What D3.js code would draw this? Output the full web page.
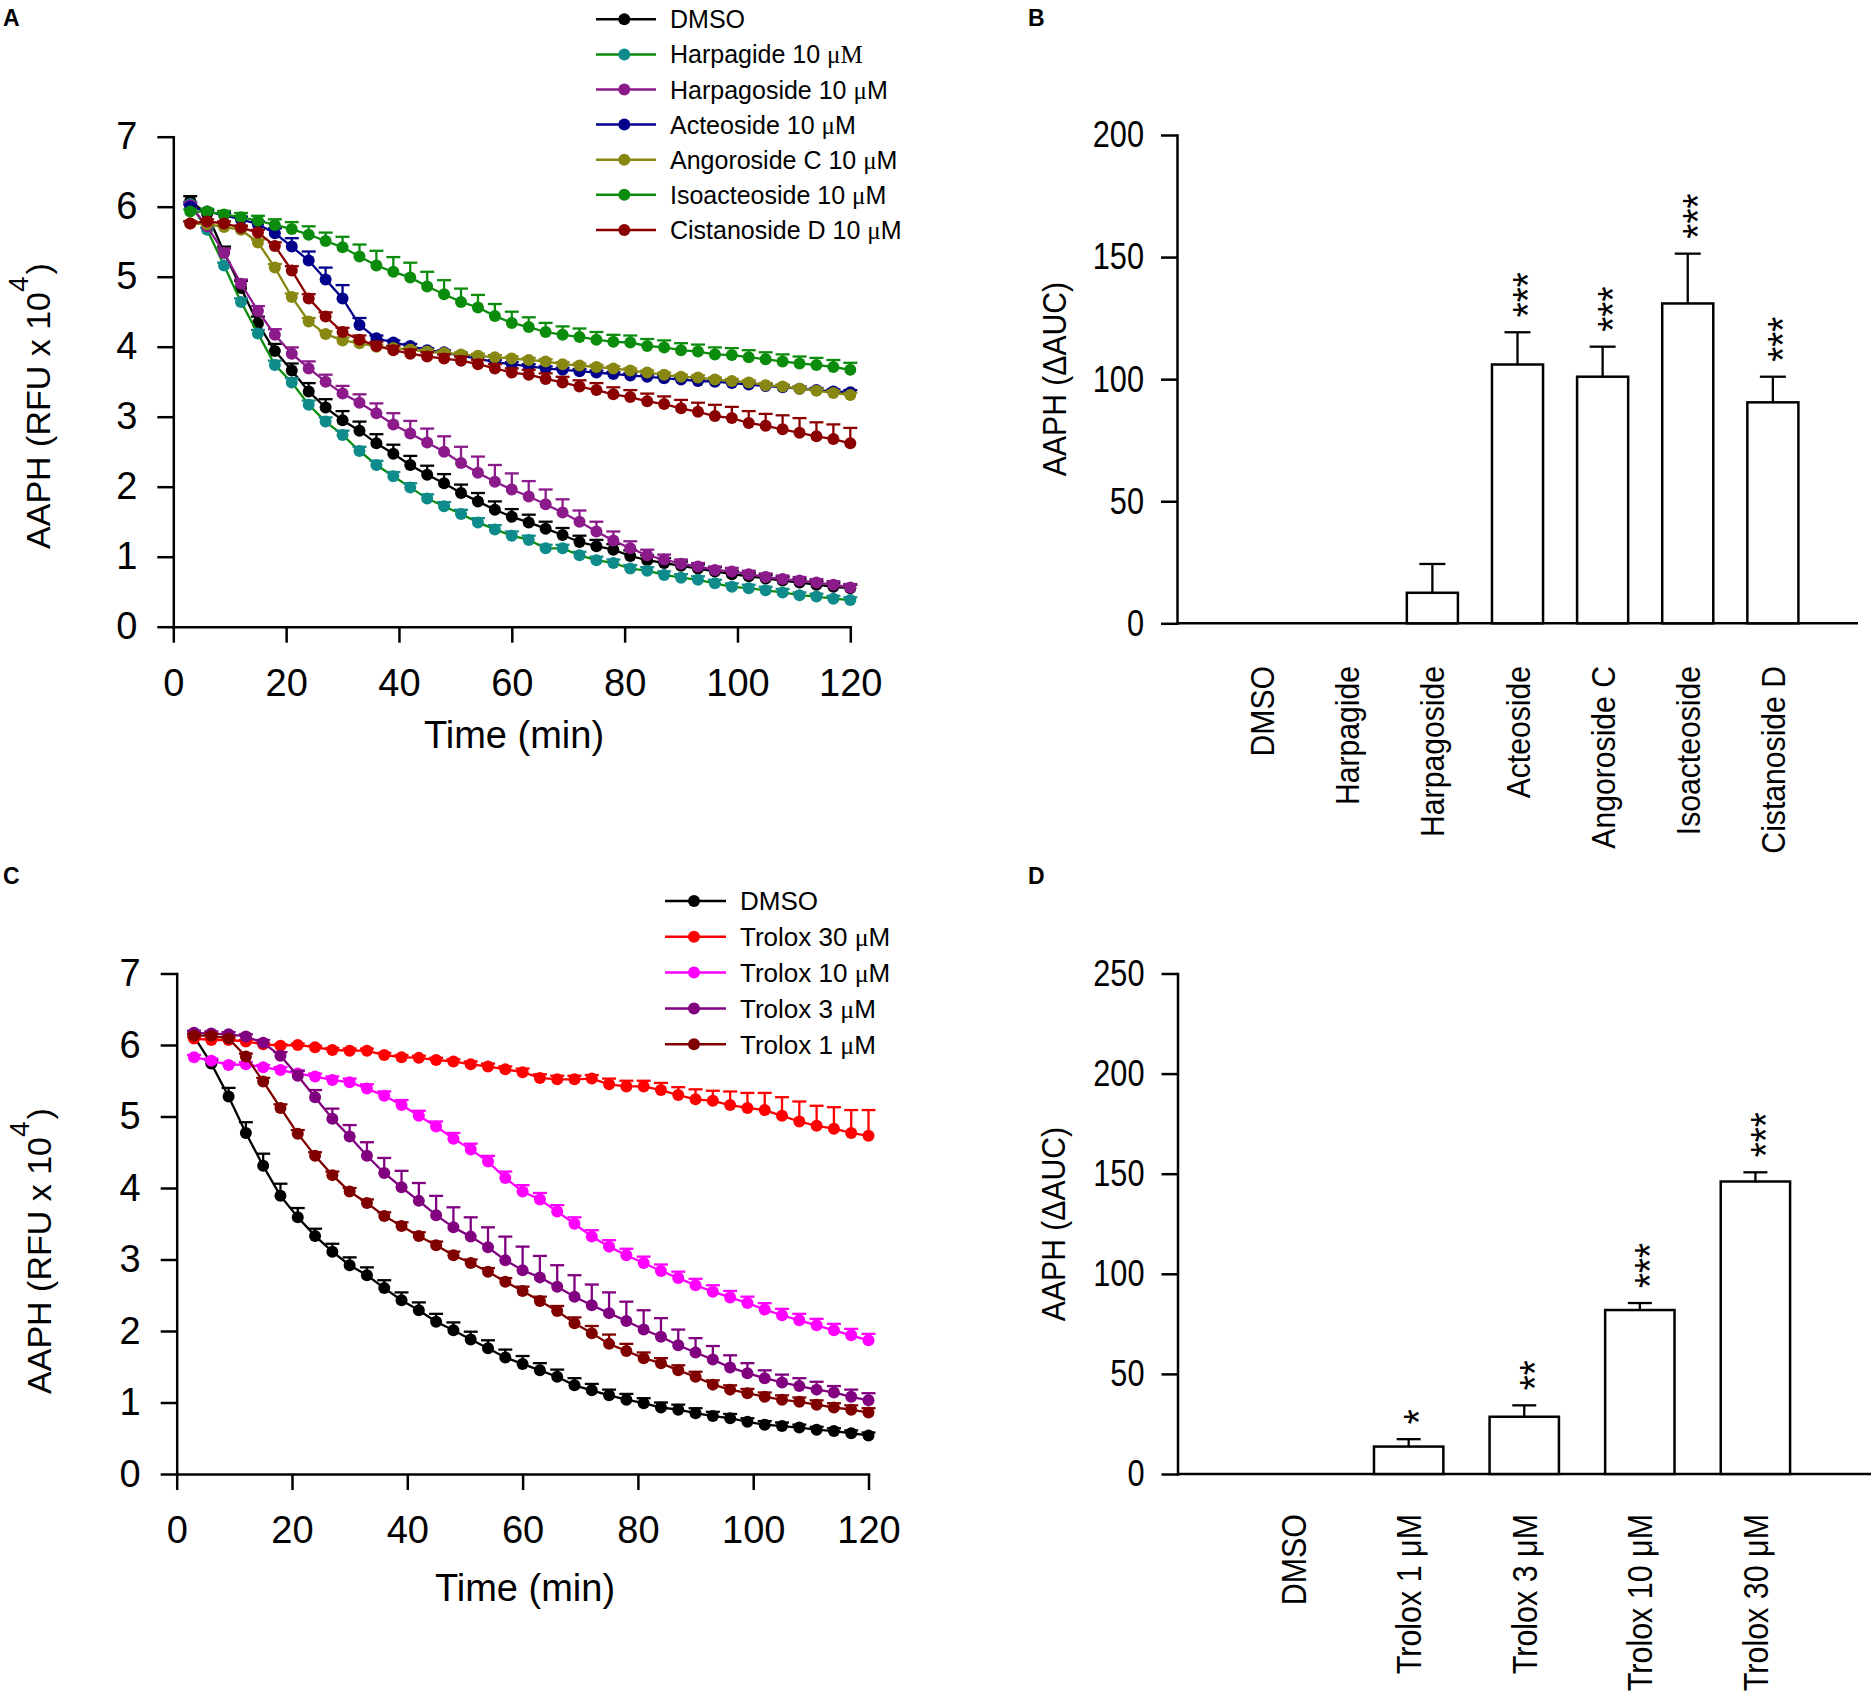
<!DOCTYPE html>
<html>
<head>
<meta charset="utf-8">
<script src="https://cdn.jsdelivr.net/npm/d3@7"></script>
<style>
  body { margin: 0; background: #fff; }
  svg { display: block; }
</style>
</head>
<body>
<svg id="chart" width="1871" height="1701"></svg>
<script>
// ---- data -------------------------------------------------------------
const timeMin = [3, 6, 9, 12, 15, 18, 21, 24, 27, 30,
  33, 36, 39, 42, 45, 48, 51, 54, 57, 60,
  63, 66, 69, 72, 75, 78, 81, 84, 87, 90,
  93, 96, 99, 102, 105, 108, 111, 114, 117, 120];
const timeTicks = [0, 20, 40, 60, 80, 100, 120];
const rfuTicks = [0, 1, 2, 3, 4, 5, 6, 7];

// panel A: mean and SEM (RFU x 10^4)
const aNames = ['DMSO', 'Harpagide 10 μM', 'Harpagoside 10 μM', 'Acteoside 10 μM',
  'Angoroside C 10 μM', 'Isoacteoside 10 μM', 'Cistanoside D 10 μM'];
const aDMSO = [6.08, 5.9, 5.35, 4.84, 4.33, 3.94, 3.66, 3.36, 3.13, 2.95,
  2.8, 2.62, 2.47, 2.31, 2.17, 2.05, 1.91, 1.79, 1.67, 1.57,
  1.49, 1.4, 1.31, 1.21, 1.15, 1.1, 1.01, 0.95, 0.91, 0.87,
  0.83, 0.79, 0.75, 0.72, 0.69, 0.66, 0.63, 0.6, 0.57, 0.55];
const aDMSOErr = [0.07, 0.05, 0.08, 0.1, 0.1, 0.1, 0.1, 0.12, 0.12, 0.13,
  0.13, 0.13, 0.13, 0.13, 0.13, 0.13, 0.12, 0.12, 0.12, 0.11,
  0.11, 0.1, 0.1, 0.09, 0.09, 0.08, 0.08, 0.07, 0.07, 0.06,
  0.06, 0.06, 0.05, 0.05, 0.05, 0.05, 0.05, 0.05, 0.05, 0.05];
const aHarpagide = [6.04, 5.67, 5.16, 4.64, 4.19, 3.74, 3.49, 3.17, 2.93, 2.74,
  2.51, 2.31, 2.15, 1.99, 1.83, 1.72, 1.61, 1.49, 1.39, 1.3,
  1.24, 1.12, 1.12, 1.02, 0.95, 0.91, 0.83, 0.8, 0.74, 0.7,
  0.67, 0.62, 0.57, 0.55, 0.52, 0.49, 0.45, 0.43, 0.4, 0.38];
const aHarpagideErr = [0.03, 0.03, 0.04, 0.05, 0.05, 0.06, 0.06, 0.06, 0.06, 0.06,
  0.06, 0.06, 0.06, 0.06, 0.06, 0.06, 0.06, 0.06, 0.06, 0.06,
  0.06, 0.05, 0.05, 0.05, 0.05, 0.05, 0.05, 0.05, 0.05, 0.05,
  0.05, 0.05, 0.05, 0.05, 0.05, 0.05, 0.04, 0.04, 0.04, 0.04];
const aHarpagoside = [6.02, 5.72, 5.34, 4.9, 4.51, 4.17, 3.9, 3.69, 3.5, 3.33,
  3.2, 3.05, 2.89, 2.76, 2.63, 2.5, 2.34, 2.2, 2.07, 1.96,
  1.86, 1.75, 1.63, 1.5, 1.36, 1.23, 1.12, 1.02, 0.96, 0.9,
  0.86, 0.81, 0.79, 0.75, 0.71, 0.68, 0.66, 0.63, 0.6, 0.56];
const aHarpagosideErr = [0.04, 0.04, 0.06, 0.06, 0.07, 0.08, 0.09, 0.1, 0.1, 0.11,
  0.12, 0.14, 0.16, 0.18, 0.2, 0.22, 0.23, 0.23, 0.24, 0.23,
  0.22, 0.21, 0.19, 0.16, 0.14, 0.13, 0.1, 0.08, 0.07, 0.06,
  0.05, 0.05, 0.05, 0.05, 0.05, 0.05, 0.05, 0.05, 0.05, 0.05];
const aActeoside = [6.0, 5.93, 5.88, 5.82, 5.75, 5.62, 5.43, 5.23, 4.96, 4.69,
  4.31, 4.12, 4.06, 4.01, 3.95, 3.92, 3.87, 3.83, 3.78, 3.75,
  3.72, 3.69, 3.67, 3.65, 3.63, 3.61, 3.59, 3.57, 3.55, 3.53,
  3.51, 3.5, 3.48, 3.46, 3.44, 3.42, 3.4, 3.38, 3.36, 3.35];
const aActeosideErr = [0.03, 0.03, 0.03, 0.04, 0.04, 0.07, 0.12, 0.13, 0.17, 0.19,
  0.1, 0.04, 0.03, 0.03, 0.03, 0.03, 0.03, 0.03, 0.03, 0.03,
  0.03, 0.03, 0.03, 0.03, 0.03, 0.03, 0.03, 0.03, 0.03, 0.03,
  0.03, 0.03, 0.03, 0.03, 0.03, 0.03, 0.03, 0.03, 0.03, 0.03];
const aAngoroside = [5.76, 5.75, 5.71, 5.67, 5.49, 5.13, 4.71, 4.36, 4.18, 4.09,
  4.05, 4.0, 3.98, 3.96, 3.93, 3.91, 3.89, 3.87, 3.85, 3.83,
  3.81, 3.79, 3.75, 3.73, 3.71, 3.69, 3.66, 3.63, 3.6, 3.57,
  3.56, 3.53, 3.51, 3.49, 3.45, 3.43, 3.4, 3.37, 3.34, 3.31];
const aAngorosideErr = [0.03, 0.03, 0.03, 0.04, 0.04, 0.05, 0.05, 0.05, 0.04, 0.04,
  0.03, 0.03, 0.03, 0.03, 0.03, 0.03, 0.03, 0.03, 0.03, 0.03,
  0.03, 0.03, 0.03, 0.03, 0.03, 0.03, 0.03, 0.03, 0.03, 0.03,
  0.03, 0.03, 0.03, 0.03, 0.03, 0.03, 0.03, 0.03, 0.03, 0.03];
const aIsoacteoside = [5.93, 5.93, 5.89, 5.85, 5.8, 5.74, 5.68, 5.6, 5.51, 5.42,
  5.29, 5.16, 5.07, 4.99, 4.86, 4.75, 4.64, 4.56, 4.44, 4.34,
  4.28, 4.21, 4.17, 4.14, 4.1, 4.07, 4.06, 4.01, 3.99, 3.95,
  3.93, 3.89, 3.88, 3.85, 3.82, 3.79, 3.76, 3.74, 3.71, 3.67];
const aIsoacteosideErr = [0.03, 0.04, 0.05, 0.06, 0.07, 0.08, 0.1, 0.12, 0.12, 0.15,
  0.17, 0.21, 0.21, 0.21, 0.21, 0.2, 0.19, 0.18, 0.17, 0.16,
  0.14, 0.13, 0.12, 0.12, 0.11, 0.1, 0.1, 0.1, 0.1, 0.1,
  0.1, 0.1, 0.1, 0.1, 0.1, 0.1, 0.1, 0.1, 0.1, 0.1];
const aCistanoside = [5.76, 5.79, 5.76, 5.7, 5.63, 5.44, 5.09, 4.69, 4.43, 4.21,
  4.1, 4.01, 3.95, 3.9, 3.86, 3.83, 3.8, 3.75, 3.69, 3.63,
  3.6, 3.54, 3.49, 3.43, 3.38, 3.32, 3.28, 3.22, 3.18, 3.12,
  3.07, 3.01, 2.98, 2.91, 2.87, 2.82, 2.77, 2.72, 2.68, 2.62];
const aCistanosideErr = [0.03, 0.03, 0.03, 0.03, 0.04, 0.05, 0.06, 0.06, 0.06, 0.06,
  0.06, 0.06, 0.06, 0.06, 0.06, 0.06, 0.06, 0.06, 0.06, 0.06,
  0.07, 0.08, 0.08, 0.09, 0.1, 0.1, 0.1, 0.11, 0.11, 0.12,
  0.13, 0.16, 0.16, 0.17, 0.17, 0.2, 0.21, 0.2, 0.21, 0.22];

// panel C
const cNames = ['DMSO', 'Trolox 30 μM', 'Trolox 10 μM', 'Trolox 3 μM', 'Trolox 1 μM'];
const cDMSO = [6.12, 5.74, 5.28, 4.77, 4.31, 3.89, 3.59, 3.33, 3.11, 2.92,
  2.78, 2.6, 2.43, 2.29, 2.13, 2.01, 1.88, 1.76, 1.63, 1.54,
  1.45, 1.36, 1.24, 1.17, 1.1, 1.04, 0.99, 0.93, 0.9, 0.85,
  0.81, 0.78, 0.73, 0.69, 0.67, 0.65, 0.62, 0.6, 0.57, 0.54];
const cDMSOErr = [0.03, 0.05, 0.12, 0.15, 0.17, 0.17, 0.13, 0.1, 0.11, 0.11,
  0.11, 0.11, 0.11, 0.11, 0.11, 0.11, 0.11, 0.11, 0.11, 0.11,
  0.1, 0.1, 0.1, 0.09, 0.08, 0.08, 0.07, 0.07, 0.07, 0.07,
  0.06, 0.06, 0.05, 0.05, 0.05, 0.04, 0.04, 0.04, 0.04, 0.04];
const cTrolox30 = [6.09, 6.07, 6.07, 6.05, 6.01, 5.99, 6.0, 5.97, 5.93, 5.92,
  5.92, 5.86, 5.83, 5.82, 5.79, 5.77, 5.73, 5.7, 5.66, 5.62,
  5.54, 5.52, 5.52, 5.53, 5.45, 5.42, 5.42, 5.37, 5.3, 5.24,
  5.22, 5.16, 5.12, 5.09, 5.01, 4.93, 4.87, 4.83, 4.77, 4.73];
const cTrolox30Err = [0.02, 0.02, 0.02, 0.02, 0.02, 0.02, 0.02, 0.02, 0.03, 0.03,
  0.03, 0.03, 0.03, 0.03, 0.03, 0.03, 0.04, 0.04, 0.04, 0.05,
  0.05, 0.05, 0.05, 0.05, 0.08, 0.08, 0.08, 0.1, 0.11, 0.14,
  0.14, 0.19, 0.21, 0.24, 0.26, 0.28, 0.28, 0.3, 0.32, 0.36];
const cTrolox10 = [5.83, 5.78, 5.72, 5.73, 5.69, 5.65, 5.6, 5.56, 5.51, 5.48,
  5.39, 5.29, 5.16, 5.01, 4.86, 4.69, 4.54, 4.37, 4.14, 3.95,
  3.84, 3.67, 3.5, 3.32, 3.18, 3.06, 2.95, 2.84, 2.74, 2.64,
  2.55, 2.47, 2.39, 2.3, 2.22, 2.15, 2.08, 2.01, 1.94, 1.87];
const cTrolox10Err = [0.03, 0.03, 0.03, 0.03, 0.03, 0.04, 0.04, 0.04, 0.05, 0.05,
  0.06, 0.06, 0.07, 0.07, 0.07, 0.08, 0.08, 0.08, 0.09, 0.09,
  0.09, 0.09, 0.09, 0.09, 0.09, 0.09, 0.09, 0.09, 0.09, 0.09,
  0.09, 0.09, 0.09, 0.09, 0.09, 0.09, 0.09, 0.09, 0.09, 0.09];
const cTrolox3 = [6.17, 6.16, 6.15, 6.12, 6.03, 5.85, 5.57, 5.27, 4.97, 4.72,
  4.45, 4.21, 4.01, 3.82, 3.62, 3.45, 3.32, 3.17, 2.99, 2.85,
  2.75, 2.62, 2.48, 2.36, 2.25, 2.14, 2.02, 1.92, 1.8, 1.7,
  1.6, 1.49, 1.41, 1.34, 1.28, 1.23, 1.18, 1.14, 1.08, 1.03];
const cTrolox3Err = [0.03, 0.03, 0.03, 0.03, 0.04, 0.05, 0.07, 0.1, 0.14, 0.16,
  0.19, 0.21, 0.23, 0.25, 0.27, 0.28, 0.27, 0.28, 0.33, 0.33,
  0.3, 0.3, 0.3, 0.29, 0.29, 0.27, 0.27, 0.26, 0.22, 0.2,
  0.19, 0.17, 0.14, 0.11, 0.11, 0.11, 0.11, 0.09, 0.1, 0.1];
const cTrolox1 = [6.13, 6.13, 6.09, 5.84, 5.49, 5.12, 4.76, 4.45, 4.18, 3.95,
  3.79, 3.61, 3.47, 3.33, 3.2, 3.06, 2.95, 2.83, 2.69, 2.56,
  2.42, 2.28, 2.11, 1.97, 1.82, 1.72, 1.62, 1.55, 1.45, 1.36,
  1.25, 1.18, 1.13, 1.08, 1.04, 1.01, 0.97, 0.93, 0.9, 0.86];
const cTrolox1Err = [0.03, 0.03, 0.03, 0.04, 0.05, 0.05, 0.05, 0.05, 0.05, 0.05,
  0.05, 0.05, 0.05, 0.05, 0.05, 0.05, 0.05, 0.05, 0.05, 0.06,
  0.06, 0.07, 0.08, 0.1, 0.13, 0.1, 0.08, 0.07, 0.07, 0.07,
  0.06, 0.06, 0.06, 0.06, 0.06, 0.06, 0.06, 0.06, 0.06, 0.06];

// panel B
const bCategories = ['DMSO', 'Harpagide', 'Harpagoside', 'Acteoside', 'Angoroside C', 'Isoacteoside', 'Cistanoside D'];
const bValues = [0, 0, 12.5, 106, 101, 131, 90.5];
const bErrors = [0, 0, 11.8, 13.2, 12.3, 20.4, 10.5];
const bStars = ['', '', '', '***', '***', '***', '***'];
const bTicks = [0, 50, 100, 150, 200];

// panel D
const dCategories = ['DMSO', 'Trolox 1 μM', 'Trolox 3 μM', 'Trolox 10 μM', 'Trolox 30 μM'];
const dValues = [0, 13.7, 28.6, 81.9, 146.1];
const dErrors = [0, 3.7, 5.7, 3.5, 4.6];
const dStars = ['', '*', '**', '***', '***'];
const dTicks = [0, 50, 100, 150, 200, 250];

// ---- drawing ----------------------------------------------------------
const FONT = '"Liberation Sans", Arial, Helvetica, sans-serif';
const SERIF = '"Liberation Serif", "Times New Roman", serif';
const svg = d3.select('#chart');

function styleAxis(g, fontSize) {
    g.attr('font-family', FONT).attr('font-size', fontSize);
    g.select('.domain').attr('stroke-width', 2.5).attr('stroke-linecap', 'square');
    g.selectAll('.tick line').attr('stroke-width', 2.5);
    g.selectAll('.tick text').attr('fill', '#000');
}

// writes a label, putting the micro sign (and M for Harpagide) in a serif face
function unitText(sel, label, serifM) {
    const k = label.indexOf('μ');
    if (k < 0) { sel.text(label); return; }
    sel.append('tspan').text(label.slice(0, k));
    sel.append('tspan').attr('font-family', SERIF).text(serifM ? 'μM' : 'μ');
    if (!serifM) sel.append('tspan').text(label.slice(k + 1));
}

function drawTimePanel(opt) {
    const x = d3.scaleLinear().domain([0, 120]).range([opt.left, opt.right]);
    const y = d3.scaleLinear().domain([0, 7]).range([opt.bottom, opt.top]);
    const g = svg.append('g');

    const xAxis = g.append('g')
        .attr('transform', `translate(0,${opt.bottom})`)
        .call(d3.axisBottom(x).tickValues(timeTicks).tickFormat(d3.format('d'))
            .tickSize(16).tickSizeOuter(0).tickPadding(26));
    styleAxis(xAxis, 38);

    const yAxis = g.append('g')
        .attr('transform', `translate(${opt.left},0)`)
        .call(d3.axisLeft(y).tickValues(rfuTicks).tickFormat(d3.format('d'))
            .tickSize(16).tickSizeOuter(0).tickPadding(20));
    styleAxis(yAxis, 38);

    g.append('text')
        .attr('x', opt.xLabelX).attr('y', opt.xLabelY)
        .attr('text-anchor', 'middle')
        .attr('font-family', FONT).attr('font-size', 38)
        .text('Time (min)');

    const yl = g.append('text')
        .attr('transform', `translate(${opt.yLabelX},${opt.yLabelY}) rotate(-90)`)
        .attr('text-anchor', 'middle')
        .attr('font-family', FONT).attr('font-size', 34);
    yl.append('tspan').text('AAPH (RFU x 10');
    yl.append('tspan').attr('font-size', 28).attr('dy', -22).text('4');
    yl.append('tspan').attr('dy', 22).attr('dx', 2).text(')');

    const line = d3.line().x((d, i) => x(timeMin[i])).y(d => y(d));

    opt.series.forEach(s => {
        const sg = g.append('g');
        sg.append('path')
            .attr('d', line(s.values))
            .attr('fill', 'none')
            .attr('stroke', s.line)
            .attr('stroke-width', 2.3);

        const eb = sg.append('g').attr('stroke', s.marker).attr('stroke-width', 2.3);
        s.values.forEach((v, i) => {
            const cx = x(timeMin[i]);
            const top = y(v + s.errors[i]);
            eb.append('line').attr('x1', cx).attr('x2', cx).attr('y1', y(v)).attr('y2', top);
            eb.append('line').attr('x1', cx - 7).attr('x2', cx + 7).attr('y1', top).attr('y2', top);
        });

        sg.selectAll('circle')
            .data(s.values)
            .enter()
            .append('circle')
            .attr('cx', (d, i) => x(timeMin[i]))
            .attr('cy', d => y(d))
            .attr('r', 6)
            .attr('fill', s.marker);
    });

    // legend
    const lg = g.append('g');
    opt.series.forEach((s, i) => {
        const ry = opt.legend.y0 + i * opt.legend.step;
        lg.append('line')
            .attr('x1', opt.legend.x0).attr('x2', opt.legend.x1)
            .attr('y1', ry).attr('y2', ry)
            .attr('stroke', s.line).attr('stroke-width', 2.5);
        lg.append('circle')
            .attr('cx', opt.legend.xm).attr('cy', ry).attr('r', 6)
            .attr('fill', s.marker);
        const t = lg.append('text')
            .attr('x', opt.legend.xt).attr('y', ry).attr('dy', '0.36em')
            .attr('font-family', FONT).attr('font-size', opt.legend.fontSize);
        unitText(t, s.name, s.serifM);
    });
}

function drawBarPanel(opt) {
    const n = opt.cats.length;
    const x = d3.scaleLinear().domain([0, n + 1]).range([opt.left, opt.right]);
    const y = d3.scaleLinear().domain([0, opt.ymax]).range([opt.bottom, opt.top]);
    const bw = 0.6 * (x(1) - x(0));
    const g = svg.append('g');

    const yAxis = g.append('g')
        .attr('transform', `translate(${opt.left},0)`)
        .call(d3.axisLeft(y).tickValues(opt.ticks).tickFormat(d3.format('d'))
            .tickSize(16).tickSizeOuter(0).tickPadding(17));
    styleAxis(yAxis, 37);
    // the reference digits are narrow: squeeze them horizontally
    yAxis.selectAll('.tick text')
        .attr('transform', 'scale(0.83,1)')
        .attr('x', -33 / 0.83);

    g.append('line')
        .attr('x1', opt.left).attr('x2', opt.right)
        .attr('y1', y(0)).attr('y2', y(0))
        .attr('stroke', '#000').attr('stroke-width', 2.5);

    g.append('text')
        .attr('transform', `translate(${opt.yLabelX},${opt.yLabelY}) rotate(-90) scale(0.9,1)`)
        .attr('text-anchor', 'middle')
        .attr('font-family', FONT).attr('font-size', 33.5)
        .text('AAPH (ΔAUC)');

    const starSize = 42;
    opt.cats.forEach((c, i) => {
        const cx = x(i + 1);
        const v = opt.values[i];
        if (v > 0) {
            const top = y(v + opt.errors[i]);
            g.append('line')
                .attr('x1', cx).attr('x2', cx).attr('y1', y(v)).attr('y2', top)
                .attr('stroke', '#000').attr('stroke-width', 2.3);
            g.append('line')
                .attr('x1', cx - opt.cap).attr('x2', cx + opt.cap).attr('y1', top).attr('y2', top)
                .attr('stroke', '#000').attr('stroke-width', 2.3);
            g.append('rect')
                .attr('x', cx - bw / 2).attr('y', y(v))
                .attr('width', bw).attr('height', y(0) - y(v))
                .attr('fill', '#fff').attr('stroke', '#000').attr('stroke-width', 2.5);
            if (opt.stars[i]) {
                g.append('text')
                    .attr('transform', `translate(${cx + 0.58 * starSize},${top - 15}) rotate(-90) scale(0.92,1)`)
                    .attr('font-family', FONT).attr('font-size', starSize)
                    .text(opt.stars[i]);
            }
        }
        g.append('text')
            .attr('transform', `translate(${cx + 0.36 * opt.catFont},${opt.labelTop}) rotate(-90) scale(${opt.catSqueeze},1)`)
            .attr('text-anchor', 'end')
            .attr('font-family', FONT).attr('font-size', opt.catFont)
            .text(c);
    });
}

drawTimePanel({
    left: 173.3, right: 850.3, top: 136.7, bottom: 626.7,
    xLabelX: 514, xLabelY: 748, yLabelX: 49.5, yLabelY: 406,
    legend: { x0: 596, x1: 656, xm: 624.3, xt: 670, y0: 19.3, step: 35.1, fontSize: 25 },
    series: [
        { name: aNames[0], values: aDMSO, errors: aDMSOErr, line: '#000000', marker: '#000000' },
        { name: aNames[1], values: aHarpagide, errors: aHarpagideErr, line: '#0c8c0c', marker: '#0f8b8b', serifM: true },
        { name: aNames[2], values: aHarpagoside, errors: aHarpagosideErr, line: '#8b1a8b', marker: '#8b1a8b' },
        { name: aNames[3], values: aActeoside, errors: aActeosideErr, line: '#00008b', marker: '#00008b' },
        { name: aNames[4], values: aAngoroside, errors: aAngorosideErr, line: '#878712', marker: '#878712' },
        { name: aNames[5], values: aIsoacteoside, errors: aIsoacteosideErr, line: '#0c8c0c', marker: '#0c8c0c' },
        { name: aNames[6], values: aCistanoside, errors: aCistanosideErr, line: '#8b0000', marker: '#8b0000' }
    ]
});

drawTimePanel({
    left: 176.7, right: 868.5, top: 973.5, bottom: 1474,
    xLabelX: 525, xLabelY: 1601, yLabelX: 51, yLabelY: 1251,
    legend: { x0: 665, x1: 726, xm: 694, xt: 740, y0: 901, step: 35.8, fontSize: 26 },
    series: [
        { name: cNames[0], values: cDMSO, errors: cDMSOErr, line: '#000000', marker: '#000000' },
        { name: cNames[1], values: cTrolox30, errors: cTrolox30Err, line: '#ff0000', marker: '#ff0000' },
        { name: cNames[2], values: cTrolox10, errors: cTrolox10Err, line: '#ff00ff', marker: '#ff00ff' },
        { name: cNames[3], values: cTrolox3, errors: cTrolox3Err, line: '#800080', marker: '#800080' },
        { name: cNames[4], values: cTrolox1, errors: cTrolox1Err, line: '#800000', marker: '#800000' }
    ]
});

drawBarPanel({
    cats: bCategories, values: bValues, errors: bErrors, stars: bStars, ticks: bTicks,
    ymax: 200, left: 1177, right: 1858, top: 135, bottom: 623.3,
    yLabelX: 1066, yLabelY: 379, labelTop: 666, catFont: 33.5, catSqueeze: 0.9, cap: 13
});

drawBarPanel({
    cats: dCategories, values: dValues, errors: dErrors, stars: dStars, ticks: dTicks,
    ymax: 250, left: 1177.5, right: 1871, top: 973.5, bottom: 1474,
    yLabelX: 1065, yLabelY: 1224, labelTop: 1514, catFont: 35, catSqueeze: 0.87, cap: 12
});

// panel letters
[['A', 3, 26], ['B', 1028, 26], ['C', 3, 884], ['D', 1028, 884]].forEach(([t, lx, ly]) => {
    svg.append('text')
        .attr('x', lx).attr('y', ly)
        .attr('font-family', FONT).attr('font-size', 23).attr('font-weight', 'bold')
        .text(t);
});
</script>
</body>
</html>
